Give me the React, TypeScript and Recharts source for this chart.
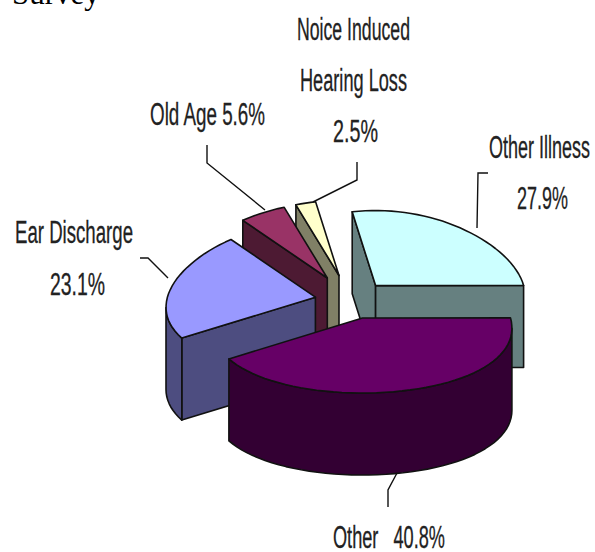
import React from 'react';
import { PieChart, Pie } from 'recharts';

const categories = ['Ear Discharge', 'Old Age', 'Noice Induced Hearing Loss', 'Other Illness', 'Other'];
const shares = [23.1, 5.6, 2.5, 27.9, 40.8];

const topColors = ['#9999ff', '#993366', '#ffffcc', '#ccffff', '#660066'];
const wallColors = ['#4d4d80', '#4d1a33', '#808066', '#668080', '#330033'];

// how far each slice is pulled out
const explode = [37, 50, 50, 37, 37];
// slices are painted back to front, one Pie per pass
const paintPasses = [[2], [1], [0, 3, 4]];

const RATIO = 0.507;
const PERSPECTIVE = 0.14;
const DEPTH = 82;
const INK = '#111';

const data = categories.map((name, i) => ({ name, value: shares[i] }));

type Line = { text: string; x: number; y: number; w: number };
const labelLayout: { leader: [number, number][]; lines: Line[] }[] = [
  {
    leader: [[140, 258], [148, 258], [168, 278]],
    lines: [
      { text: 'Ear Discharge', x: 15, y: 243, w: 118 },
      { text: '23.1%', x: 50, y: 295, w: 55 },
    ],
  },
  {
    leader: [[207, 145], [207, 163], [265, 210]],
    lines: [{ text: 'Old Age 5.6%', x: 150, y: 125, w: 115 }],
  },
  {
    leader: [[357, 162], [357, 180], [313, 202]],
    lines: [
      { text: 'Noice Induced', x: 297, y: 40, w: 113 },
      { text: 'Hearing Loss', x: 300, y: 91, w: 107 },
      { text: '2.5%', x: 333, y: 142, w: 45 },
    ],
  },
  {
    leader: [[488, 173], [478, 173], [477, 228]],
    lines: [
      { text: 'Other Illness', x: 489, y: 158, w: 101 },
      { text: '27.9%', x: 517, y: 209, w: 51 },
    ],
  },
  {
    leader: [[397, 473], [388, 490], [388, 507]],
    lines: [{ text: 'Other   40.8%', x: 333, y: 548, w: 112 }],
  },
];

const rad = (d: number) => (d * Math.PI) / 180;

// t = degrees clockwise from 12 o'clock
const makeSlice = (pass: number[]) => (props: any) => {
  const { cx, cy, outerRadius, startAngle, endAngle, index } = props;
  const i = index ?? categories.indexOf(props.name);
  if (!pass.includes(i)) return <g />;
  const rx = outerRadius;
  const ry = rx * RATIO;
  let t0 = 90 - startAngle;
  let t1 = 90 - endAngle;
  while (t0 >= 360) {
    t0 -= 360;
    t1 -= 360;
  }
  while (t0 < 0) {
    t0 += 360;
    t1 += 360;
  }
  const tm = (t0 + t1) / 2;
  const ax = cx + explode[i] * Math.sin(rad(tm));
  const ay = cy - explode[i] * RATIO * Math.cos(rad(tm));
  const pt = (t: number, dy = 0): [number, number] => [
    ax + rx * Math.sin(rad(t)) * (1 - PERSPECTIVE * Math.cos(rad(t))),
    ay - ry * Math.cos(rad(t)) + dy,
  ];
  const rim = (a: number, b: number, dy = 0) => {
    const out: [number, number][] = [];
    const n = Math.max(2, Math.ceil(Math.abs(b - a) / 3));
    for (let k = 0; k <= n; k++) out.push(pt(a + ((b - a) * k) / n, dy));
    return out;
  };
  const toPath = (pts: [number, number][]) =>
    'M' + pts.map((p) => `${p[0].toFixed(1)} ${p[1].toFixed(1)}`).join('L') + 'Z';
  const facing = (t: number) => -Math.cos(rad(t)) > 0;

  const walls: string[] = [];
  const s = pt(t0);
  const e = pt(t1);
  if (facing(t0 - 90)) {
    walls.push(toPath([[ax, ay], s, [s[0], s[1] + DEPTH], [ax, ay + DEPTH]]));
  }
  if (facing(t1 + 90)) {
    walls.push(toPath([[ax, ay], e, [e[0], e[1] + DEPTH], [ax, ay + DEPTH]]));
  }
  // front part of the rim only, the widest points shift a bit with the perspective
  [98, 458].forEach((lo) => {
    const a = Math.max(t0, lo);
    const b = Math.min(t1, lo + 164);
    if (b > a) walls.push(toPath([...rim(a, b), ...rim(b, a, DEPTH)]));
  });

  const top = toPath([[ax, ay], ...rim(t0, t1)]);
  return (
    <g>
      {walls.map((d, k) => (
        <path key={k} d={d} fill={wallColors[i]} stroke={INK} strokeWidth={1.6} strokeLinejoin="round" />
      ))}
      <path d={top} fill={topColors[i]} stroke={INK} strokeWidth={1.6} strokeLinejoin="round" />
    </g>
  );
};

const SliceLabel = (props: any) => {
  const layout = labelLayout[props.index];
  return (
    <g>
      <polyline
        points={layout.leader.map((p) => p.join(',')).join(' ')}
        fill="none"
        stroke={INK}
        strokeWidth={1.4}
      />
      {layout.lines.map((l) => (
        <text
          key={l.text}
          x={l.x}
          y={l.y}
          textLength={l.w}
          lengthAdjust="spacingAndGlyphs"
          fontFamily="Liberation Sans, Arial, sans-serif"
          fontSize={31}
          fill="#222"
          stroke="#222"
          strokeWidth={0.3}
          xmlSpace="preserve"
        >
          {l.text}
        </text>
      ))}
    </g>
  );
};

export default function App() {
  return (
    <div style={{ position: 'absolute', left: 0, top: 0, width: 595, height: 552, overflow: 'hidden', background: '#fff' }}>
      <div
        style={{
          position: 'absolute',
          left: 12,
          top: -23,
          fontFamily: 'Liberation Serif, Times New Roman, serif',
          fontSize: 31,
          lineHeight: '34px',
          color: '#000',
        }}
      >
        Survey
      </div>
      <PieChart width={595} height={552} margin={{ top: 0, right: 0, bottom: 0, left: 0 }}>
        {paintPasses.map((pass, p) => (
          <Pie
            key={p}
            data={data}
            dataKey="value"
            nameKey="name"
            cx={352}
            cy={300}
            innerRadius={0}
            outerRadius={148}
            startAngle={-147}
            endAngle={-507}
            stroke="none"
            shape={makeSlice(pass)}
            label={p === paintPasses.length - 1 ? SliceLabel : false}
            labelLine={false}
            isAnimationActive={false}
          />
        ))}
      </PieChart>
    </div>
  );
}
